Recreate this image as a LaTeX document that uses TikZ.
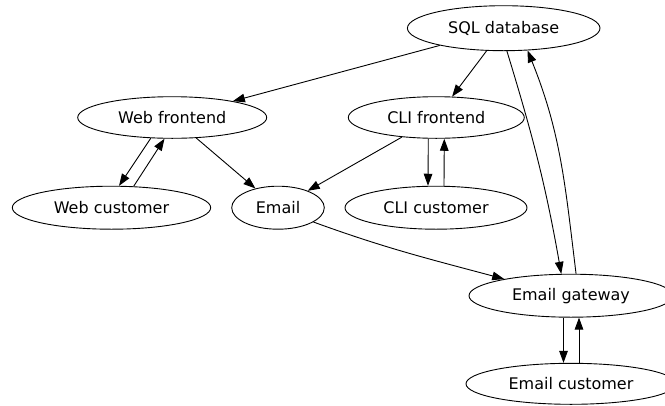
\documentclass[tikz,border=0pt]{standalone}
\usepackage{fontspec}
\setmainfont{DejaVu Sans}
\usetikzlibrary{arrows.meta,shapes.geometric}
\tikzset{
  nd/.style={draw, ellipse, inner sep=0pt, minimum height=43pt, line width=0.9pt,
    font=\fontsize{16}{19}\selectfont},
  edge/.style={line width=0.9pt, -{Triangle[length=12pt,width=8.6pt]}}
}
\begin{document}
\begin{tikzpicture}[x=1pt,y=1pt]
\useasboundingbox (0,0) rectangle (665,-405);
\node[nd, minimum width=192.6pt, minimum height=45pt] (sql) at (503.7,-28.2) {SQL database};
\node[nd, minimum width=189pt, minimum height=41.6pt] (web) at (172.2,-117.5) {Web frontend};
\node[nd, minimum width=176pt, minimum height=41.6pt] (cli) at (436.3,-117.5) {CLI frontend};
\node[nd, minimum width=198.4pt] (webc) at (111.5,-207.7) {Web customer};
\node[nd, minimum width=92.6pt] (email) at (278,-207.7) {Email};
\node[nd, minimum width=182pt] (clic) at (436,-207.7) {CLI customer};
\node[nd, minimum width=204pt] (gw) at (571,-295.7) {Email gateway};
\node[nd, minimum width=210pt, minimum height=41pt] (gwc) at (571,-383.8) {Email customer};

\draw[edge] (sql) -- (web);
\draw[edge] (sql) -- (cli);
\draw[edge] (sql.-82.2) to[out=-73,in=100] (gw.114.7);
\draw[edge] (gw.77) to[out=97,in=-68] (sql.-43.5);
\draw[edge] (web.224.7) -- (webc.71.6);
\draw[edge] (webc.44.9) -- (web.250.6);
\draw[edge] (web) -- (email);
\draw[edge] (cli) -- (email);
\draw[edge] ([xshift=-8pt]cli.south) -- ([xshift=-8pt]clic.north);
\draw[edge] ([xshift=8pt]clic.north) -- ([xshift=8pt]cli.south);
\draw[edge] (email.-22.1) to[out=-20,in=165] (gw.166.6);
\draw[edge] ([xshift=-7.5pt]gw.south) -- ([xshift=-7.5pt]gwc.north);
\draw[edge] ([xshift=8pt]gwc.north) -- ([xshift=8pt]gw.south);
\end{tikzpicture}
\end{document}
